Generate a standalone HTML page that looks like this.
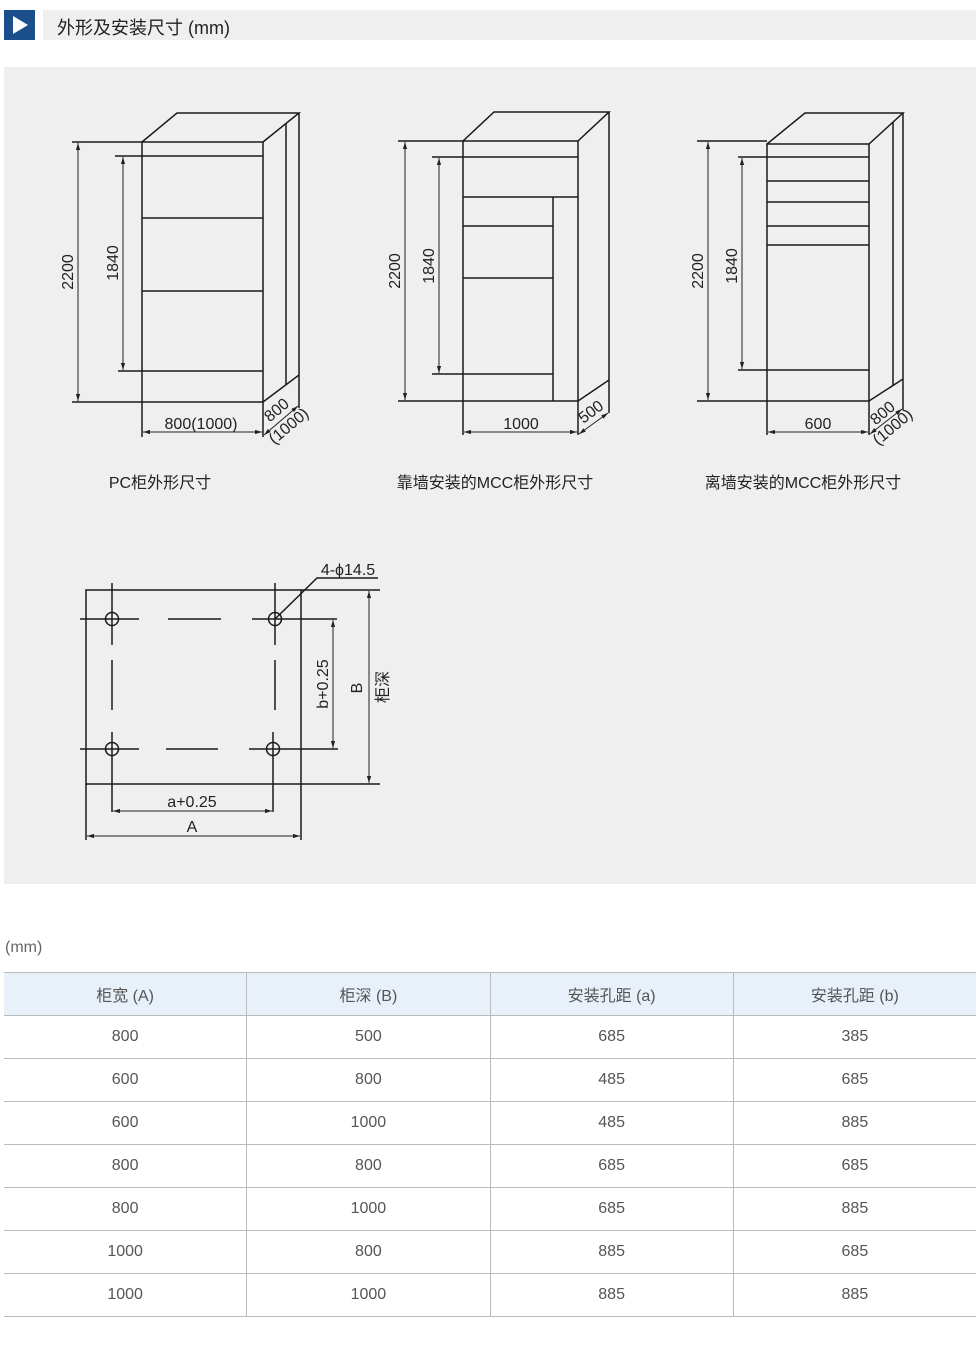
<!DOCTYPE html>
<html><head><meta charset="utf-8"><style>
body{margin:0;background:#fff;width:980px;height:1355px;position:relative;font-family:"Liberation Sans","Noto Sans CJK SC",sans-serif;overflow:hidden}
.hb{position:absolute;left:4px;top:10px;width:31px;height:30px;background:#1a4f8c}
.hg{position:absolute;left:43px;top:10px;width:933px;height:30px;background:#efefef}
.ht{position:absolute;left:57px;top:14px;font-size:18px;color:#222}
table{position:absolute;left:4px;top:972px;width:972px;border-collapse:collapse;font-size:16px;color:#555}
td{border-bottom:1px solid #bbb;border-left:1px solid #bbb;text-align:center;height:42px;padding:0;width:243px}
tr td:first-child{border-left:none}
tr.h td{background:#e8f1f9;border-top:1px solid #bbb}
</style></head><body>
<div class="hb"><svg width="31" height="30"><polygon points="9,6 24,15 9,24" fill="#fff"/></svg></div>
<div class="hg"></div>
<div class="ht">外形及安装尺寸 (mm)</div>
<svg style="position:absolute;left:0;top:0" width="980" height="900">
<defs><marker id="a" viewBox="0 0 10 10" refX="10" refY="5" markerWidth="7" markerHeight="7" orient="auto-start-reverse"><path d="M0,2L10,5L0,8z" fill="#222"/></marker></defs>
<rect x="4" y="67" width="972" height="817" fill="#efefef"/>
<g stroke="#1a1a1a" stroke-width="1.5" fill="none">
<!-- cab1 -->
<rect x="142" y="142" width="121" height="260"/>
<polyline points="142,142 177,113 299,113 263,142"/>
<line x1="299" y1="113" x2="299" y2="375"/><line x1="263" y1="402" x2="299" y2="375"/>
<line x1="286" y1="124" x2="286" y2="384"/>
<line x1="115" y1="156" x2="263" y2="156"/><line x1="142" y1="218" x2="263" y2="218"/><line x1="142" y1="291" x2="263" y2="291"/><line x1="118" y1="371" x2="263" y2="371"/>
<line x1="72" y1="142" x2="142" y2="142"/><line x1="72" y1="402" x2="142" y2="402"/>
<line x1="142" y1="402" x2="142" y2="437"/><line x1="263" y1="402" x2="263" y2="437"/>
<line x1="299" y1="375" x2="299" y2="408"/>
<!-- cab2 -->
<rect x="463" y="141" width="115" height="260"/>
<polyline points="463,141 494,112 609,112 578,141"/>
<line x1="609" y1="112" x2="609" y2="380"/><line x1="578" y1="401" x2="609" y2="380"/>
<line x1="432" y1="157" x2="578" y2="157"/><line x1="463" y1="197" x2="578" y2="197"/>
<line x1="553" y1="197" x2="553" y2="401"/><line x1="463" y1="226" x2="553" y2="226"/><line x1="463" y1="278" x2="553" y2="278"/><line x1="432" y1="374" x2="553" y2="374"/>
<line x1="398" y1="141" x2="463" y2="141"/><line x1="398" y1="401" x2="463" y2="401"/>
<line x1="463" y1="401" x2="463" y2="435"/><line x1="578" y1="401" x2="578" y2="435"/><line x1="609" y1="380" x2="609" y2="413"/>
<!-- cab3 -->
<rect x="767" y="144" width="102" height="257"/>
<polyline points="767,144 805,113 903,113 869,144"/>
<line x1="903" y1="113" x2="903" y2="379"/><line x1="869" y1="401" x2="903" y2="379"/>
<line x1="893" y1="122" x2="893" y2="385"/>
<line x1="738" y1="157" x2="869" y2="157"/><line x1="767" y1="181" x2="869" y2="181"/><line x1="767" y1="202" x2="869" y2="202"/><line x1="767" y1="226" x2="869" y2="226"/><line x1="767" y1="245" x2="869" y2="245"/><line x1="738" y1="370" x2="869" y2="370"/>
<line x1="697" y1="141" x2="767" y2="141"/><line x1="697" y1="401" x2="767" y2="401"/>
<line x1="767" y1="401" x2="767" y2="435"/><line x1="869" y1="401" x2="869" y2="435"/><line x1="903" y1="379" x2="903" y2="410"/>
<!-- plan -->
<rect x="86" y="590" width="215" height="194"/>
<line x1="86" y1="784" x2="86" y2="840"/><line x1="301" y1="784" x2="301" y2="840"/>
<line x1="80" y1="619" x2="139" y2="619"/><line x1="112" y1="583" x2="112" y2="645"/>
<line x1="252" y1="619" x2="337" y2="619"/><line x1="275" y1="583" x2="275" y2="645"/>
<line x1="80" y1="749" x2="139" y2="749"/><line x1="112" y1="732" x2="112" y2="812"/>
<line x1="249" y1="749" x2="338" y2="749"/><line x1="273" y1="732" x2="273" y2="812"/>
<line x1="168" y1="619" x2="221" y2="619"/><line x1="166" y1="749" x2="218" y2="749"/>
<line x1="112" y1="660" x2="112" y2="710"/><line x1="275" y1="660" x2="275" y2="710"/>
<circle cx="112" cy="619" r="6.5"/><circle cx="275" cy="619" r="6.5"/><circle cx="112" cy="749" r="6.5"/><circle cx="273" cy="749" r="6.5"/>
<line x1="301" y1="590" x2="380" y2="590"/><line x1="301" y1="784" x2="380" y2="784"/>
<polyline points="275,619 317,578 378,578"/>
</g>
<g stroke="#222" stroke-width="1" marker-start="url(#a)" marker-end="url(#a)">
<line x1="78" y1="143" x2="78" y2="401"/><line x1="123" y1="157" x2="123" y2="370"/>
<line x1="143" y1="432" x2="262" y2="432"/><line x1="264" y1="435" x2="298" y2="406"/>
<line x1="405" y1="142" x2="405" y2="400"/><line x1="439" y1="158" x2="439" y2="373"/>
<line x1="464" y1="432" x2="577" y2="432"/><line x1="579" y1="434" x2="608" y2="413"/>
<line x1="708" y1="142" x2="708" y2="400"/><line x1="742" y1="158" x2="742" y2="369"/>
<line x1="768" y1="432" x2="868" y2="432"/><line x1="870" y1="434" x2="902" y2="409"/>
<line x1="113" y1="811" x2="272" y2="811"/><line x1="87" y1="836" x2="300" y2="836"/>
<line x1="333" y1="620" x2="333" y2="748"/><line x1="369" y1="591" x2="369" y2="783"/>
</g>
<g font-size="16" fill="#222" text-anchor="middle" font-family="Liberation Sans,Noto Sans CJK SC,sans-serif">
<text transform="translate(73,272) rotate(-90)">2200</text><text transform="translate(118,263) rotate(-90)">1840</text>
<text x="201" y="429">800(1000)</text>
<text transform="translate(280,414) rotate(-40)">800</text><text transform="translate(292,430) rotate(-40)">(1000)</text>
<text transform="translate(400,271) rotate(-90)">2200</text><text transform="translate(434,266) rotate(-90)">1840</text>
<text x="521" y="429">1000</text><text transform="translate(594,416) rotate(-37)">500</text>
<text transform="translate(703,271) rotate(-90)">2200</text><text transform="translate(737,266) rotate(-90)">1840</text>
<text x="818" y="429">600</text>
<text transform="translate(886,417) rotate(-40)">800</text><text transform="translate(896,431) rotate(-40)">(1000)</text>
<text x="160" y="488">PC柜外形尺寸</text><text x="495" y="488">靠墙安装的MCC柜外形尺寸</text><text x="803" y="488">离墙安装的MCC柜外形尺寸</text>
<text x="348" y="575">4-ϕ14.5</text>
<text x="192" y="807">a+0.25</text><text x="192" y="832">A</text>
<text transform="translate(328,684) rotate(-90)">b+0.25</text>
<text transform="translate(362,688) rotate(-90)">B</text>
<text transform="translate(388,687) rotate(-90)">柜深</text>
</g>
</svg>
<div style="position:absolute;left:5px;top:939px;font-size:16px;color:#666">(mm)</div>
<table>
<tr class="h"><td>柜宽 (A)</td><td>柜深 (B)</td><td>安装孔距 (a)</td><td>安装孔距 (b)</td></tr>
<tr><td>800</td><td>500</td><td>685</td><td>385</td></tr>
<tr><td>600</td><td>800</td><td>485</td><td>685</td></tr>
<tr><td>600</td><td>1000</td><td>485</td><td>885</td></tr>
<tr><td>800</td><td>800</td><td>685</td><td>685</td></tr>
<tr><td>800</td><td>1000</td><td>685</td><td>885</td></tr>
<tr><td>1000</td><td>800</td><td>885</td><td>685</td></tr>
<tr><td>1000</td><td>1000</td><td>885</td><td>885</td></tr>
</table>
</body></html>
